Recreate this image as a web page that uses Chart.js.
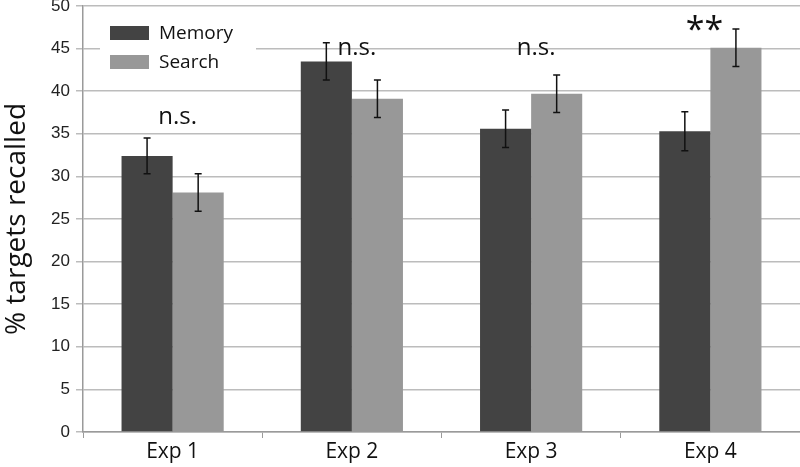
<!DOCTYPE html>
<html>
<head>
<meta charset="utf-8">
<script src="https://cdn.jsdelivr.net/npm/chart.js@4"></script>
<style>
  html, body { margin: 0; padding: 0; background: #fff; }
  canvas { display: block; }
</style>
</head>
<body>
<canvas id="chart" width="800" height="467"></canvas>
<script>
// data
const categories = ['Exp 1', 'Exp 2', 'Exp 3', 'Exp 4'];
const memory = [32.4, 43.5, 35.6, 35.3];
const search = [28.1, 39.1, 39.7, 45.1];
const memoryErr = [2.1, 2.2, 2.2, 2.3];
const searchErr = [2.2, 2.2, 2.2, 2.2];
const sigLabels = ['n.s.', 'n.s.', 'n.s.', '**'];
const sigLevels = [37, 45, 45, 47.6];
const yTicks = [0, 5, 10, 15, 20, 25, 30, 35, 40, 45, 50];

const MYRIAD = '"Open Sans", "DejaVu Sans", sans-serif';

// error bars drawn on top of each bar
const errorBars = {
  id: 'errorBars',
  afterDatasetsDraw(chart) {
    const ctx = chart.ctx;
    const y = chart.scales.y;
    const errs = [memoryErr, searchErr];
    ctx.save();
    ctx.strokeStyle = '#111';
    ctx.lineWidth = 1.5;
    chart.data.datasets.forEach((ds, di) => {
      chart.getDatasetMeta(di).data.forEach((bar, i) => {
        const v = ds.data[i];
        const top = y.getPixelForValue(v + errs[di][i]);
        const bot = y.getPixelForValue(v - errs[di][i]);
        ctx.beginPath();
        ctx.moveTo(bar.x, top);
        ctx.lineTo(bar.x, bot);
        ctx.moveTo(bar.x - 3.5, top);
        ctx.lineTo(bar.x + 3.5, top);
        ctx.moveTo(bar.x - 3.5, bot);
        ctx.lineTo(bar.x + 3.5, bot);
        ctx.stroke();
      });
    });
    ctx.restore();
  }
};

// n.s. / ** labels and the inset legend
const extras = {
  id: 'extras',
  afterDraw(chart) {
    const ctx = chart.ctx;
    const x = chart.scales.x;
    const y = chart.scales.y;
    ctx.save();
    ctx.fillStyle = '#111';
    ctx.textAlign = 'center';
    ctx.textBaseline = 'middle';
    sigLabels.forEach((s, i) => {
      const star = s === '**';
      ctx.font = (star ? '34px ' : '24px ') + MYRIAD;
      const yy = y.getPixelForValue(sigLevels[i]) + (star ? 5 : 0);
      ctx.fillText(s, x.getPixelForValue(i) + (star ? -6 : 5), yy);
    });

    // legend box covering the gridline
    ctx.fillStyle = '#fff';
    ctx.fillRect(100, 16, 156, 60);
    chart.data.datasets.forEach((ds, di) => {
      const top = 26 + di * 29;
      ctx.fillStyle = ds.backgroundColor;
      ctx.fillRect(110, top, 39, 14);
      ctx.fillStyle = '#111';
      ctx.font = '19px ' + MYRIAD;
      ctx.textAlign = 'left';
      ctx.fillText(ds.label, 159, top + 8);
    });
    ctx.restore();
  }
};

new Chart(document.getElementById('chart'), {
  type: 'bar',
  data: {
    labels: categories,
    datasets: [{
      label: 'Memory',
      data: memory,
      backgroundColor: '#434343',
      barPercentage: 1,
      categoryPercentage: 0.57
    }, {
      label: 'Search',
      data: search,
      backgroundColor: '#989898',
      barPercentage: 1,
      categoryPercentage: 0.57
    }]
  },
  options: {
    responsive: false,
    animation: false,
    layout: {
      padding: { top: 6, right: 0, bottom: 0, left: 0 }
    },
    plugins: {
      legend: { display: false },
      tooltip: { enabled: false }
    },
    scales: {
      x: {
        afterFit: (s) => { s.height = 35; },
        border: { color: '#9a9a9a', width: 1.5 },
        grid: {
          offset: true,
          drawOnChartArea: false,
          color: '#9a9a9a',
          tickLength: 6
        },
        ticks: {
          color: '#111',
          font: { family: MYRIAD, size: 21 },
          padding: 1
        }
      },
      y: {
        min: 0,
        max: 50,
        afterFit: (s) => { s.width = 83; s.paddingTop = 0; s.paddingBottom = 0; },
        afterBuildTicks: (s) => { s.ticks = yTicks.map(v => ({ value: v })); },
        border: { color: '#9a9a9a', width: 1.5 },
        grid: {
          color: '#bcbcbc',
          lineWidth: 1.5,
          tickLength: 7
        },
        ticks: {
          autoSkip: false,
          color: '#222',
          font: { family: '"Liberation Sans", Arial, sans-serif', size: 17 },
          padding: 6
        },
        title: {
          display: true,
          text: '% targets recalled',
          color: '#111',
          font: { family: MYRIAD, size: 28 },
          padding: { top: 0, bottom: 0 }
        }
      }
    }
  },
  plugins: [errorBars, extras]
});
</script>
</body>
</html>
